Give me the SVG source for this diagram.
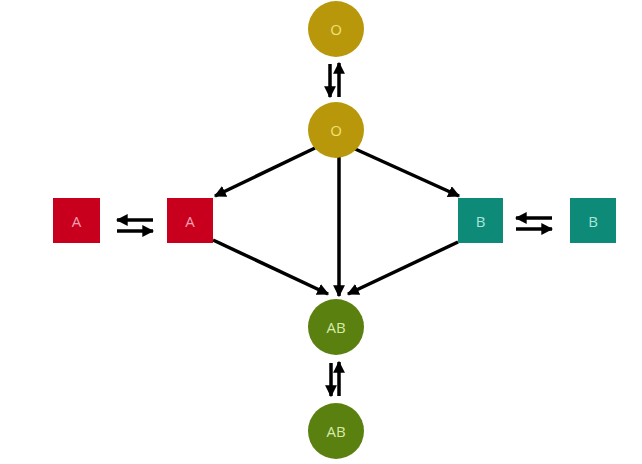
<svg xmlns="http://www.w3.org/2000/svg" width="642" height="464" viewBox="0 0 642 464">
<defs>
<marker id="ah" viewBox="0 0 10 10" refX="9" refY="5" markerWidth="3.4" markerHeight="3.4" orient="auto" markerUnits="strokeWidth">
<path d="M0,0 L10,5 L0,10 z" fill="#000"/>
</marker>
<style>
.c{stroke:#000;stroke-width:3.5;fill:none;marker-end:url(#ah)}
.t{font-family:"Open Sans","Liberation Sans",Arial,sans-serif;font-size:15px;text-anchor:middle;dominant-baseline:central}
.o{fill:#B8980A}
.ab{fill:#5A800F}
.a{fill:#C8001E}
.b{fill:#0E8A78}
</style>
</defs>
<rect width="642" height="464" fill="#fff"/>
<g id="connectors">
<line class="c" x1="330" y1="64" x2="330" y2="97"/>
<line class="c" x1="339" y1="97" x2="339" y2="63"/>
<line class="c" x1="315" y1="148" x2="215" y2="196"/>
<line class="c" x1="353" y1="148" x2="459" y2="196"/>
<line class="c" x1="339" y1="147" x2="339" y2="296"/>
<line class="c" x1="213" y1="240" x2="328" y2="294"/>
<line class="c" x1="458" y1="242" x2="348" y2="294"/>
<line class="c" x1="153" y1="220" x2="117" y2="220"/>
<line class="c" x1="117" y1="231" x2="153" y2="231"/>
<line class="c" x1="552" y1="218" x2="516" y2="218"/>
<line class="c" x1="516" y1="229" x2="552" y2="229"/>
<line class="c" x1="331" y1="363" x2="331" y2="396"/>
<line class="c" x1="339" y1="396" x2="339" y2="362"/>
</g>
<g id="O_top"><circle class="o" cx="336" cy="29" r="28"/><text class="t" x="336" y="29" fill="#F2E27A">O</text></g>
<g id="O_mid"><circle class="o" cx="336" cy="130" r="28"/><text class="t" x="336" y="130" fill="#F2E27A">O</text></g>
<g id="A_left"><rect class="a" x="53" y="198" width="47" height="45"/><text class="t" x="76.5" y="220.5" fill="#F7A0B0">A</text></g>
<g id="A_right"><rect class="a" x="167" y="198" width="46" height="45"/><text class="t" x="190" y="220.5" fill="#F7A0B0">A</text></g>
<g id="B_left"><rect class="b" x="458" y="198" width="45" height="45"/><text class="t" x="480.5" y="220.5" fill="#A8E6DA">B</text></g>
<g id="B_right"><rect class="b" x="570" y="198" width="46" height="45"/><text class="t" x="593" y="220.5" fill="#A8E6DA">B</text></g>
<g id="AB_mid"><circle class="ab" cx="336" cy="327" r="28"/><text class="t" x="336" y="327" fill="#D6EBA8">AB</text></g>
<g id="AB_bot"><circle class="ab" cx="336" cy="431" r="28"/><text class="t" x="336" y="431" fill="#D6EBA8">AB</text></g>
</svg>
